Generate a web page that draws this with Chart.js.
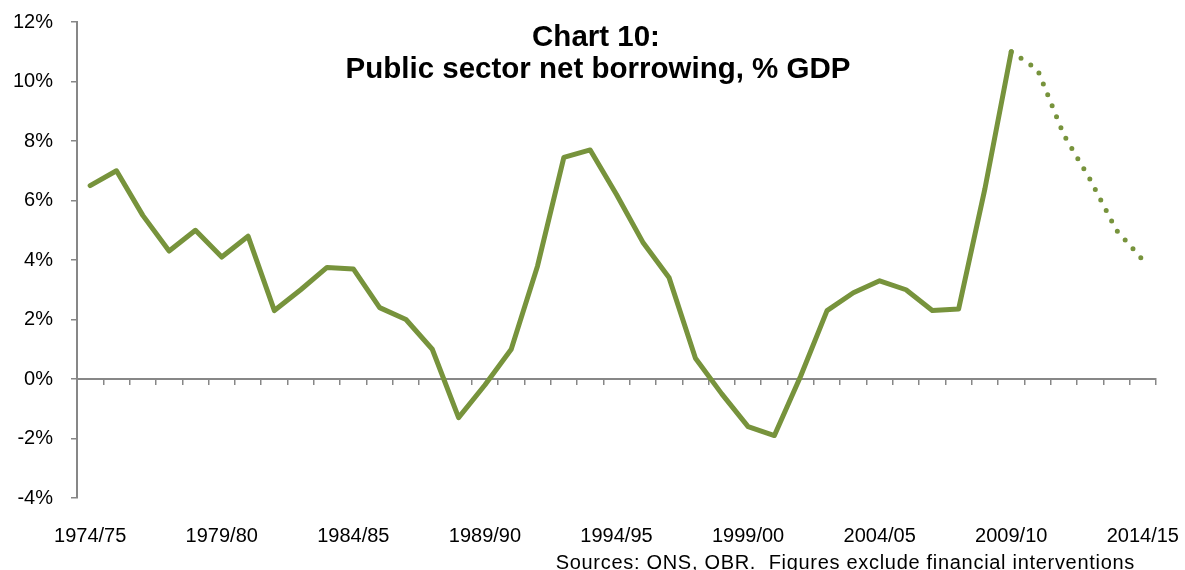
<!DOCTYPE html>
<html>
<head>
<meta charset="utf-8">
<style>
  html, body { margin: 0; padding: 0; background: #fff; }
  #wrap { width: 1185px; height: 570px; }
</style>
<script src="https://cdn.jsdelivr.net/npm/chart.js@4"></script>
</head>
<body>
<div id="wrap"><canvas id="psnb"></canvas></div>
<script>
// financial years on the category axis
const years = [
  "1974/75", "1975/76", "1976/77", "1977/78", "1978/79",
  "1979/80", "1980/81", "1981/82", "1982/83", "1983/84",
  "1984/85", "1985/86", "1986/87", "1987/88", "1988/89",
  "1989/90", "1990/91", "1991/92", "1992/93", "1993/94",
  "1994/95", "1995/96", "1996/97", "1997/98", "1998/99",
  "1999/00", "2000/01", "2001/02", "2002/03", "2003/04",
  "2004/05", "2005/06", "2006/07", "2007/08", "2008/09",
  "2009/10", "2010/11", "2011/12", "2012/13", "2013/14",
  "2014/15"
];

// outturn, % of GDP (1974/75 - 2009/10)
const outturn = [
  6.5, 7.0, 5.5, 4.3, 5.0, 4.1, 4.8, 2.3, 3.0, 3.75,
  3.7, 2.4, 2.0, 1.0, -1.3, -0.2, 1.0, 3.8, 7.45, 7.7,
  6.2, 4.6, 3.4, 0.7, -0.5, -1.6, -1.9, 0.1, 2.3, 2.9,
  3.3, 3.0, 2.3, 2.35, 6.4, 11.0
];

// OBR forecast, starting from the 2009/10 outturn
const forecastYears = ["2009/10", "2010/11", "2011/12", "2012/13", "2013/14", "2014/15"];
const forecast = [11.0, 10.4, 8.2, 6.7, 5.0, 4.0];

// years that get a label under the axis
const labelledYears = ["1974/75", "1979/80", "1984/85", "1989/90", "1994/95", "1999/00", "2004/05", "2009/10", "2014/15"];

const titleLines = ["Chart 10:", "Public sector net borrowing, % GDP"];
const sourceNote = "Sources: ONS, OBR.  Figures exclude financial interventions";

const green = "#77933C";
const axisGrey = "#878787";
const font = "'Liberation Sans', Arial, sans-serif";

// forecast series lined up against the full year list
const forecastSeries = years.map(y => {
  const i = forecastYears.indexOf(y);
  return i === -1 ? null : forecast[i];
});

// title sits inside the plot area, the source note under the year labels
const textOverlay = {
  id: "textOverlay",
  afterDraw(chart) {
    const ctx = chart.ctx;
    ctx.save();
    ctx.fillStyle = "#000";
    ctx.textAlign = "center";
    ctx.textBaseline = "alphabetic";
    ctx.font = "bold 29.5px " + font;
    ctx.fillText(titleLines[0], 596, 46);
    ctx.fillText(titleLines[1], 598, 78);
    ctx.textAlign = "right";
    ctx.font = "20px " + font;
    ctx.letterSpacing = "0.7px";
    ctx.fillText(sourceNote, 1135, 569);
    ctx.restore();
  }
};

new Chart(document.getElementById("psnb"), {
  type: "line",
  data: {
    labels: years,
    datasets: [
      {
        label: "Outturn",
        data: outturn,
        borderColor: green,
        borderWidth: 5,
        borderJoinStyle: "round",
        borderCapStyle: "round",
        pointRadius: 0,
        fill: false
      },
      {
        label: "Forecast",
        data: forecastSeries,
        borderColor: green,
        borderWidth: 5,
        borderDash: [0, 11.8],
        borderCapStyle: "round",
        pointRadius: 0,
        fill: false
      }
    ]
  },
  options: {
    responsive: true,
    maintainAspectRatio: false,
    animation: false,
    layout: { padding: { left: 11, right: 29, top: 22, bottom: 20 } },
    plugins: {
      legend: { display: false },
      tooltip: { enabled: false }
    },
    scales: {
      x: {
        type: "category",
        offset: true,
        // invisible tick marks push the year labels down from the plot
        grid: {
          drawOnChartArea: false,
          drawTicks: true,
          tickLength: 24,
          color: "rgba(0,0,0,0)"
        },
        border: { display: false },
        ticks: {
          autoSkip: false,
          maxRotation: 0,
          padding: 2,
          color: "#000",
          font: { family: font, size: 20 },
          callback(value) {
            const lbl = this.getLabelForValue(value);
            return labelledYears.includes(lbl) ? lbl : "";
          }
        }
      },
      // zero line with the small category tick marks hanging from it
      xZero: {
        type: "category",
        position: { y: 0 },
        offset: true,
        grid: {
          offset: true,
          drawOnChartArea: false,
          drawTicks: true,
          tickLength: 5,
          color: axisGrey,
          lineWidth: 1.5
        },
        border: { color: axisGrey, width: 2 },
        ticks: { display: false }
      },
      y: {
        min: -4,
        max: 12,
        // narrow axis box; the layout padding already leaves room for the end labels
        afterFit(scale) {
          scale.width = 66;
          scale.paddingTop = 0;
          scale.paddingBottom = 0;
        },
        grid: {
          drawOnChartArea: false,
          drawTicks: true,
          tickLength: 6,
          color: axisGrey,
          lineWidth: 1.5
        },
        border: { color: axisGrey, width: 2 },
        ticks: {
          stepSize: 2,
          padding: 18,
          color: "#000",
          font: { family: font, size: 20 },
          callback: v => v + "%"
        }
      }
    }
  },
  plugins: [textOverlay]
});
</script>
</body>
</html>
